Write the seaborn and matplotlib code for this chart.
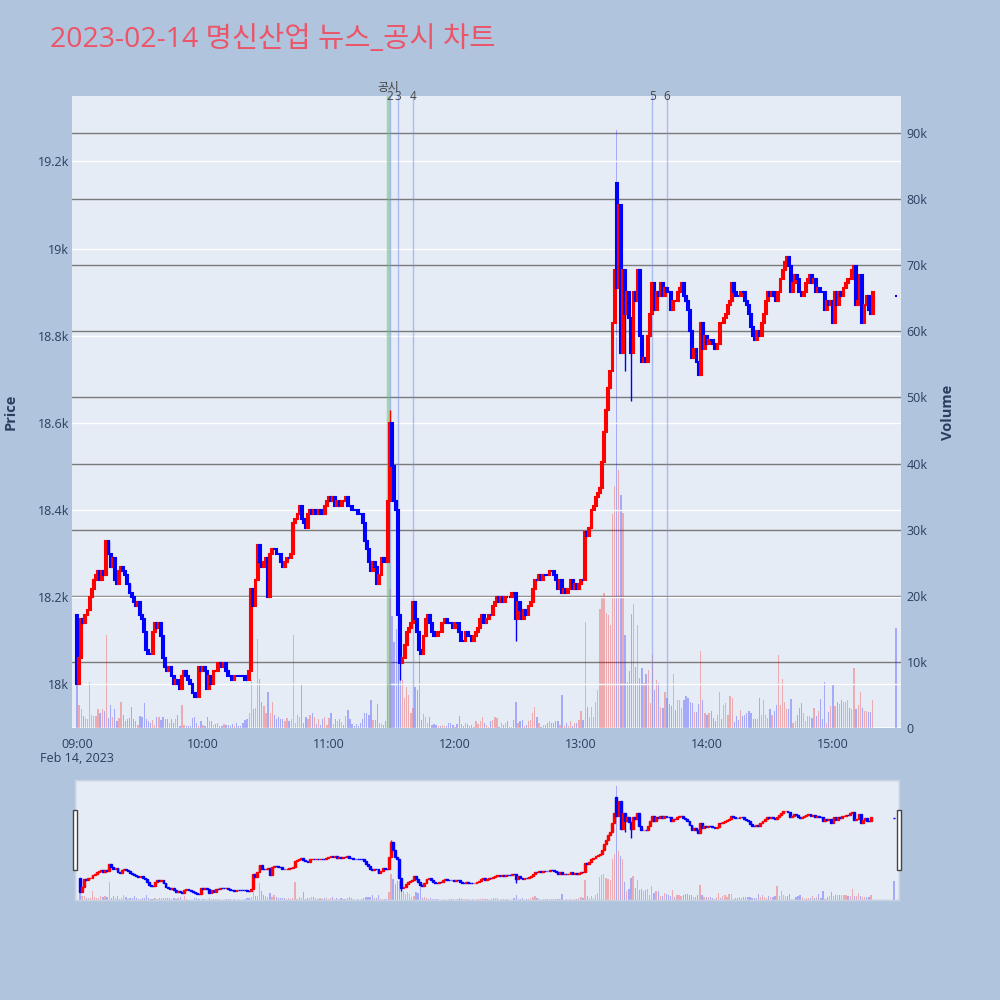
import numpy as np
import pandas as pd
import seaborn as sns
import matplotlib
matplotlib.use("Agg")
import matplotlib.pyplot as plt
import matplotlib.dates as mdates
from matplotlib.patches import Rectangle
from matplotlib.ticker import FuncFormatter

# 1-minute closes from 09:00 to 15:30 (None = no trade)
close = [
    # 09:00
    18000, 18060, 18150, 18140, 18160, 18170, 18200, 18220, 18240, 18250,
    18260, 18240, 18260, 18250, 18330, 18300, 18270, 18290, 18240, 18230,
    18260, 18270, 18260, 18250, 18230, 18210, 18200, 18190, 18180, 18190,
    18160, 18150, 18120, 18080, 18070, 18070, 18120, 18140, 18130, 18140,
    18110, 18060, 18040, 18030, 18040, 18020, 18000, 18010, 18000, 17990,
    18020, 18030, 18020, 18010, 18000, 17980, 17970, 17970, 18040, 18030,
    # 10:00
    18040, 18030, 17990, 18020, 18000, 18030, 18030, 18050, 18050, 18040,
    18050, 18030, 18020, 18020, 18010, 18020, 18020, 18020, 18020, 18020,
    18010, 18010, 18030, 18220, 18180, 18240, 18320, 18280, 18270, 18280,
    18290, 18200, 18300, 18310, 18310, 18300, 18300, 18280, 18270, 18280,
    18290, 18290, 18300, 18370, 18380, 18390, 18410, 18380, 18370, 18360,
    18390, 18400, 18390, 18400, 18390, 18400, 18390, 18390, 18410, 18420,
    # 11:00
    18430, 18420, 18430, 18410, 18420, 18410, 18420, 18420, 18430, 18410,
    18410, 18400, 18400, 18400, 18390, 18390, 18370, 18330, 18310, 18280,
    18260, 18280, 18270, 18230, 18250, 18290, 18280, 18280, 18420, 18600,
    18500, 18420, 18400, 18160, 18050, 18060, 18090, 18120, 18130, 18140,
    18190, 18150, 18120, 18080, 18070, 18110, 18150, 18160, 18140, 18120,
    18110, 18110, 18120, 18120, 18140, 18150, 18140, 18140, 18140, 18130,
    # 12:00
    18140, 18140, 18120, 18100, 18100, 18120, 18110, 18110, 18100, 18110,
    18120, 18130, 18150, 18160, 18140, 18150, 18160, 18160, 18180, 18190,
    18200, 18190, 18200, 18190, 18200, 18200, 18200, 18210, 18210, 18150,
    18190, 18170, 18150, 18170, 18160, 18180, 18190, 18220, 18240, 18240,
    18250, 18240, 18250, 18250, 18250, 18260, 18260, 18250, 18240, 18220,
    18240, 18210, 18220, 18210, 18220, 18240, 18220, 18230, 18220, 18230,
    # 13:00
    18240, 18240, 18350, 18340, 18360, 18400, 18410, 18430, 18440, 18450,
    18510, 18580, 18630, 18680, 18720, 18830, 18950, 18910, 19100, 18760,
    18950, 18850, 18900, 18840, 18760, 18900, 18880, 18950, 18800, 18740,
    18750, 18740, 18800, 18850, 18920, 18860, 18900, 18890, 18920, 18890,
    18910, 18900, 18900, 18860, 18880, 18880, 18900, 18910, 18920, 18890,
    18880, 18860, 18810, 18750, 18770, 18740, 18710, 18830, 18770, 18800,
    # 14:00
    18780, 18790, 18790, 18780, 18770, 18780, 18830, 18830, 18840, 18850,
    18870, 18880, 18920, 18900, 18890, 18890, 18900, 18900, 18880, 18870,
    18850, 18820, 18800, 18790, 18810, 18800, 18830, 18850, 18880, 18900,
    18890, 18900, 18890, 18880, 18900, 18930, 18950, 18970, 18980, 18960,
    18900, 18920, 18940, 18930, 18900, 18890, 18900, 18920, 18930, 18940,
    18920, 18930, 18900, 18910, 18900, 18900, 18860, 18880, 18870, 18880,
    # 15:00
    18830, 18900, 18870, 18900, 18890, 18910, 18920, 18930, 18930, 18950,
    18960, 18870, 18880, 18940, 18830, 18870, 18890, 18860, 18850, 18900,
    None, None, None, None, None, None, None, None, None, None,
    18890,
]

# volume per minute, thousands of shares
volume_k = [
    6.6, 3.5, 2.9, 1.8, 1.5, 1.4, 6.9, 2.0, 1.8, 1.8,
    2.9, 2.3, 2.8, 2.5, 14.1, 1.5, 3.5, 1.7, 2.9, 1.0,
    1.5, 4.0, 2.0, 1.0, 1.3, 1.5, 3.2, 1.4, 1.0, 0.5,
    1.8, 1.7, 3.8, 1.3, 1.0, 0.8, 1.2, 0.5, 1.7, 1.7,
    1.2, 1.7, 1.3, 1.4, 0.8, 1.4, 0.8, 1.3, 2.0, 0.25,
    3.5, 0.5, 0.25, 0.35, 0.25, 1.5, 1.7, 0.8, 0.35, 1.0,
    0.5, 0.25, 1.7, 1.0, 1.0, 0.5, 0.65, 0.8, 0.25, 0.35,
    0.65, 0.5, 0.5, 0.25, 0.65, 0.35, 0.8, 0.35, 0.25, 0.8,
    1.2, 1.4, 2.3, 7.3, 2.8, 3.0, 13.4, 7.4, 4.0, 3.3,
    2.3, 5.5, 2.3, 3.9, 2.0, 1.3, 1.7, 1.3, 1.3, 1.0,
    1.5, 1.0, 1.3, 14.1, 0.8, 2.0, 1.7, 6.6, 0.8, 1.7,
    1.3, 2.0, 2.3, 1.7, 0.65, 1.3, 0.5, 1.3, 1.7, 0.5,
    1.5, 2.3, 0.65, 1.4, 1.0, 1.3, 0.9, 0.5, 1.8, 2.7,
    1.3, 0.65, 0.35, 0.65, 0.25, 0.8, 1.4, 2.3, 2.3, 2.0,
    4.2, 1.2, 1.2, 3.6, 0.7, 0.6, 0.45, 1.0, 6.5, 21,
    17, 13, 15, 15, 10, 7.3, 4.5, 6.2, 5.0, 2.2,
    3.0, 6.2, 5.7, 12.8, 1.2, 2.1, 1.7, 0.7, 1.6, 0.45,
    0.6, 0.45, 0.35, 0.3, 0.45, 0.3, 0.3, 0.8, 0.8, 0.45,
    0.2, 0.6, 1.8, 0.6, 0.3, 0.7, 0.6, 0.3, 0.45, 0.2,
    1.0, 0.6, 1.0, 1.7, 0.7, 0.45, 0.2, 1.0, 1.2, 1.7,
    1.5, 0.2, 0.7, 0.45, 0.7, 1.0, 0.2, 0.2, 1.2, 4.0,
    0.7, 1.0, 1.2, 0.3, 0.45, 1.1, 1.2, 2.2, 3.2, 1.7,
    0.7, 0.2, 0.45, 0.45, 0.7, 1.0, 0.7, 0.8, 1.0, 1.0,
    0.45, 5.0, 0.3, 0.8, 0.3, 1.0, 0.3, 0.8, 0.8, 1.2,
    2.5, 1.2, 16, 3.2, 1.7, 3.2, 1.7, 4.0, 5.8, 18,
    19.9, 20.4, 17.4, 17.1, 15.6, 32.3, 36.6, 90.5, 39, 35.3,
    32.5, 14, 6.9, 8.6, 17.2, 18.8, 9.3, 15.6, 7.6, 9.1,
    6.8, 8.2, 8.8, 3.8, 11, 5.8, 7.3, 6.8, 3.2, 3.0,
    5.5, 4.5, 3.7, 3.4, 8.1, 2.7, 4.2, 4.2, 3.0, 4.2,
    4.8, 4.5, 4.0, 3.8, 2.4, 2.4, 3.7, 11.7, 4.2, 2.3,
    2.0, 2.3, 2.5, 1.5, 1.0, 2.0, 5.5, 1.4, 3.5, 3.8,
    2.0, 4.9, 4.5, 0.9, 1.8, 1.2, 2.7, 1.8, 2.0, 2.3,
    2.5, 2.2, 1.4, 1.3, 1.4, 4.5, 2.0, 4.3, 2.0, 1.5,
    2.9, 2.0, 2.5, 3.5, 11, 3.5, 7.4, 4.0, 2.9, 2.8,
    4.4, 0.8, 1.0, 2.0, 3.0, 3.8, 2.2, 1.0, 1.8, 1.8,
    1.5, 3.0, 1.8, 2.5, 4.4, 1.4, 6.9, 0.8, 2.4, 3.4,
    6.7, 3.3, 4.0, 3.7, 4.2, 3.9, 3.9, 4.2, 3.0, 2.8,
    9.1, 2.8, 3.5, 5.4, 3.0, 2.5, 2.5, 2.4, 2.4, 4.3,
    0, 0, 0, 0, 0, 0, 0, 0, 0, 0,
    15.1,
]

first_open = 18160
open_fix_idx = [257]
open_fix_val = [19150]
wick_idx = [149, 154, 209, 261, 264]
wick_val = [18630, 18010, 18100, 18720, 18650]

news_time = "11:28"
line_times = ["11:29", "11:33", "11:40", "13:34", "13:41"]
line_labels = ["2", "3", "4", "5", "6"]

UP = "#ff0000"
DOWN = "#0000ff"
PAPER = "#b0c4de"
PLOT_BG = "#e5ecf6"
TXT = "#2a3f5f"

df = pd.DataFrame({
    "time": pd.date_range("2023-02-14 09:00", periods=len(close), freq="min"),
    "close": pd.Series(close, dtype="float"),
    "volume": np.array(volume_k, dtype=float) * 1000,
})
df["open"] = df["close"].shift(1)
df.loc[0, "open"] = first_open
df["open"] = df["open"].fillna(df["close"])
for i, v in zip(open_fix_idx, open_fix_val):
    df.loc[i, "open"] = v
df["high"] = df[["open", "close"]].max(axis=1)
df["low"] = df[["open", "close"]].min(axis=1)
for i, v in zip(wick_idx, wick_val):
    if v > df.loc[i, "high"]:
        df.loc[i, "high"] = v
    else:
        df.loc[i, "low"] = v
df["x"] = mdates.date2num(df["time"])
df["color"] = np.where(df["close"] > df["open"], UP, DOWN)

sns.set_theme(style="white")
plt.rcParams["font.family"] = ["Open Sans", "Noto Sans CJK KR", "DejaVu Sans"]

minute = 1 / 1440
x0 = pd.Timestamp("2023-02-14 08:57:37")
x1 = pd.Timestamp("2023-02-14 15:32:24")


def draw(ax, axv, lw, body):
    d = df[df["close"].notna()]
    ax.vlines(d["x"], d["low"], d["high"], colors=d["color"], lw=1, zorder=3)
    ax.bar(d["x"], (d["close"] - d["open"]).abs(),
           bottom=d[["open", "close"]].min(axis=1), width=body * minute,
           color=d["color"], edgecolor=d["color"], linewidth=lw, zorder=4)
    axv.bar(df["x"], df["volume"], width=0.6 * minute, color=df["color"],
            alpha=0.28, linewidth=0, zorder=2)
    ax.set_xlim(x0, x1)
    ax.set_ylim(17900, 19350)
    axv.set_ylim(0, 95600)
    ax.set_zorder(axv.get_zorder() + 1)
    ax.patch.set_visible(False)
    axv.patch.set_visible(True)
    axv.patch.set_facecolor(PLOT_BG)


fig = plt.figure(figsize=(10, 10), dpi=100, facecolor=PAPER)

ax = fig.add_axes([0.072, 0.272, 0.829, 0.632])
axv = ax.twinx()
draw(ax, axv, 1.5, 0.9)

ax.set_yticks(np.arange(18000, 19201, 200))
ax.yaxis.set_major_formatter(FuncFormatter(lambda v, p: f"{v / 1000:g}k"))
axv.set_yticks(np.arange(0, 90001, 10000))
axv.yaxis.set_major_formatter(FuncFormatter(lambda v, p: "0" if v == 0 else f"{v / 1000:g}k"))
ax.grid(axis="y", color="white", lw=1)
ax.grid(axis="x", visible=False)
axv.grid(axis="y", color="#7a7a7a", lw=1, zorder=0)
axv.axhline(0, color="white", lw=2, zorder=1)
ax.xaxis.set_major_locator(mdates.HourLocator())
ax.xaxis.set_major_formatter(mdates.DateFormatter("%H:%M"))
for a in (ax, axv):
    for s in a.spines.values():
        s.set_visible(False)
    a.tick_params(length=0, labelsize=9, labelcolor=TXT)
ax.tick_params(axis="x", pad=7)
ax.tick_params(axis="y", pad=2)
axv.tick_params(axis="y", pad=4)
ax.set_ylabel("Price", fontsize=10.5, fontweight="bold", color=TXT)
ax.yaxis.set_label_coords(-0.066, 0.5)
axv.set_ylabel("Volume", fontsize=10.5, fontweight="bold", color=TXT)
axv.yaxis.set_label_coords(1.048, 0.5)
fig.text(0.077, 0.242, "Feb 14, 2023", ha="center", va="center", fontsize=9, color=TXT)

# news / disclosure markers
trans = ax.get_xaxis_transform()
nx = pd.Timestamp(f"2023-02-14 {news_time}")
ax.axvline(nx, color="#6fbf6f", alpha=0.55, lw=2.5, zorder=1)
ax.text(nx, 1.003, "공시", transform=trans, ha="center", va="bottom",
        fontsize=8.5, color="#444444")
for t, lab in zip(line_times, line_labels):
    lx = pd.Timestamp(f"2023-02-14 {t}")
    ax.axvline(lx, color="#6f8ff0", alpha=0.5, lw=1, zorder=1)
    ax.text(lx, 1.0, lab, transform=trans, ha="center", va="center",
            fontsize=8.5, color="#444444")

# range slider
axr = fig.add_axes([0.075, 0.10, 0.824, 0.12])
axrv = axr.twinx()
draw(axr, axrv, 1.0, 0.9)
for a in (axr, axrv):
    a.set_xticks([])
    a.set_yticks([])
    a.grid(False)
    for s in a.spines.values():
        s.set_color("#c8d2e0")
        s.set_linewidth(1)
for hx in (0.0725, 0.8965):
    fig.patches.append(Rectangle((hx, 0.13), 0.004, 0.06, transform=fig.transFigure,
                                 facecolor="white", edgecolor="#444444", lw=1))

fig.text(0.05, 0.96, "2023-02-14 명신산업 뉴스_공시 차트", fontsize=20.5,
         color="#ec5468", ha="left", va="center")

fig.savefig("out.png", dpi=100, facecolor=PAPER)
